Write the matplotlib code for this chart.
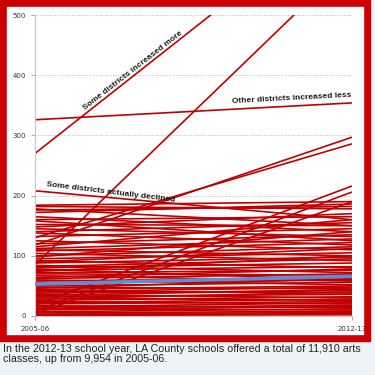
import matplotlib
matplotlib.use("Agg")
import matplotlib.pyplot as plt
from matplotlib.patches import Rectangle

# arts classes per district, 2005-06 -> 2012-13
years = ["2005-06", "2012-13"]
start = [326, 270, 85, 208, 184, 182, 178, 176, 172, 165, 160, 158, 152, 148,
         145, 140, 138, 132, 130, 125, 120, 118, 115, 112, 110, 108, 104, 100,
         98, 95, 92, 90, 88, 84, 82, 80, 78, 76, 74, 72, 70, 67, 64, 62, 60,
         58, 55, 50, 48, 46, 44, 42, 40, 38, 36, 34, 32, 30, 28, 26, 24, 22,
         20, 18, 17, 15, 13, 12, 10, 8, 7, 5, 4, 3, 2, 1]
end = [354, 685, 593, 160, 190, 178, 150, 182, 186, 140, 165, 125, 150, 170,
       132, 155, 118, 145, 286, 110, 135, 297, 160, 128, 100, 122, 92, 115,
       140, 105, 80, 112, 98, 72, 95, 88, 60, 82, 100, 76, 68, 58, 78, 70, 52,
       64, 60, 56, 45, 62, 50, 38, 48, 42, 30, 44, 36, 26, 40, 32, 20, 28,
       24, 216, 14, 22, 18, 10, 16, 206, 12, 8, 190, 6, 4, 2]
county_avg = [53, 66]

labels = [
    ("Some districts increased more", 0.31, 407, 38),
    ("Other districts increased less", 0.81, 361, 3),
    ("Some districts actually declined", 0.24, 205, -7),
]
caption = ("In the 2012-13 school year, LA County schools offered a total of 11,910 arts\n"
           "classes, up from 9,954 in 2005-06.")

W, H = 375, 375
fig = plt.figure(figsize=(W / 100, H / 100), dpi=100)
fig.patch.set_facecolor("#eef3f6")

# red frame with white panel, kept behind the axes
fig.patches.append(Rectangle((0, 1 - 341 / H), 370 / W, 341 / H,
                             transform=fig.transFigure, color="#cc0000", zorder=-2))
fig.patches.append(Rectangle((7 / W, 1 - 334 / H), 356 / W, 327 / H,
                             transform=fig.transFigure, color="white", zorder=-1))

ax = fig.add_axes([35 / W, 1 - 316 / H, 317 / W, 301 / H])
ax.set_facecolor("none")

for s, e in zip(start, end):
    ax.plot([0, 1], [s, e], color="#c00000", lw=1.2, solid_capstyle="butt")
ax.plot([0, 1], county_avg, color="#5b8fd9", lw=2.6, zorder=5)

for txt, x, y, rot in labels:
    ax.text(x, y, txt, fontsize=6.0, fontweight="bold", color="#1a1a1a",
            rotation=rot, rotation_mode="anchor", ha="center", va="center",
            family="Liberation Sans", zorder=6)

ax.set_xlim(0, 1)
ax.set_ylim(0, 500)
ax.set_yticks(range(0, 501, 100))
ax.set_xticks([0, 1])
ax.set_xticklabels(years)
ax.tick_params(axis="both", labelsize=5, colors="#999999", labelcolor="#333344",
               length=3, width=0.6)
ax.tick_params(axis="x", pad=4)
ax.yaxis.grid(True, linestyle=(0, (1, 1.5)), color="#bbbbbb", lw=0.7)
ax.set_axisbelow(True)
for side in ["top", "right"]:
    ax.spines[side].set_visible(False)
for side in ["left", "bottom"]:
    ax.spines[side].set_color("#c8c8c8")
    ax.spines[side].set_linewidth(0.8)

fig.text(3 / W, 1 - 344 / H, caption, fontsize=7.7, family="Liberation Sans",
         color="#222222", va="top", ha="left", linespacing=0.98)

fig.savefig("out.png", dpi=100, facecolor=fig.get_facecolor())
